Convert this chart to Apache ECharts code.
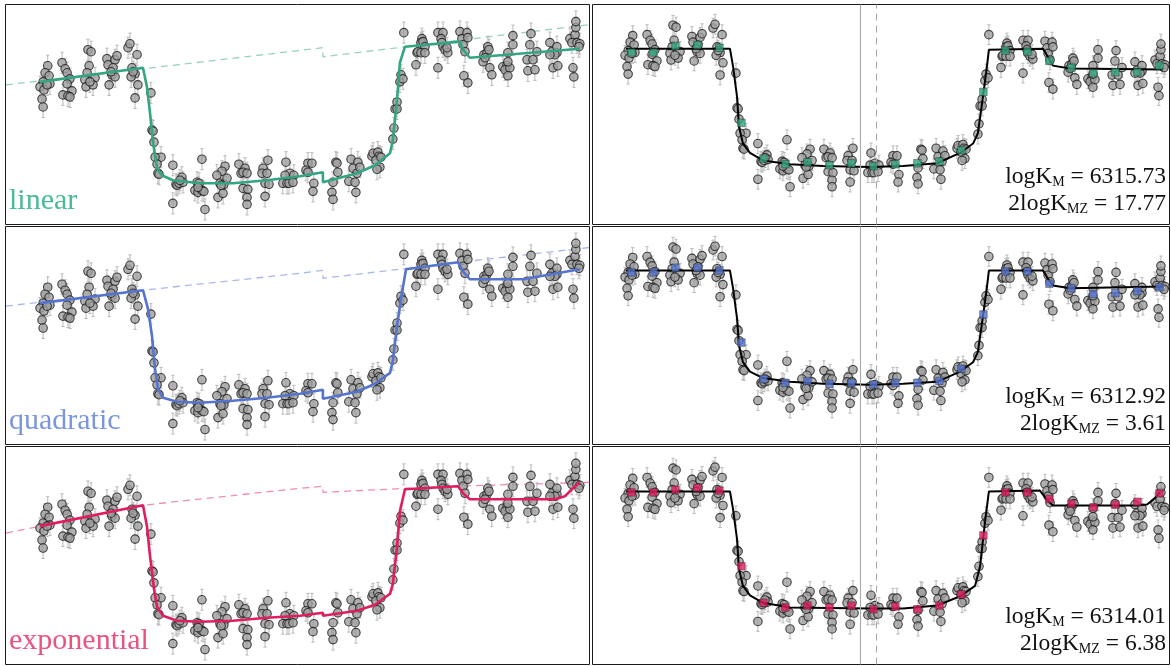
<!DOCTYPE html>
<html><head><meta charset="utf-8">
<script src="https://cdn.jsdelivr.net/npm/echarts@6/dist/echarts.min.js"></script>
<style>html,body{margin:0;padding:0;background:#fff}#c{width:1171px;height:666px}</style>
</head><body><div id="c"></div>
<script>
// ---------------- DATA ----------------
// observation times (arbitrary units, one per data point)
const times = [
 0.26,0.14,0.32,0.05,0.36,-0.09,0.09,0.00,0.05,0.23,
 0.91,1.05,1.14,1.27,1.14,0.95,1.36,1.18,1.27,
 2.09,2.23,2.14,2.05,1.95,2.41,2.00,2.32,2.18,
 2.95,3.00,3.32,3.41,3.23,3.18,3.32,3.05,3.14,
 3.91,4.00,4.32,4.09,4.23,4.05,4.36,4.23,4.14,
 4.95,5.00,5.05,5.09,5.41,5.14,5.23,5.27,5.32,
 5.95,6.09,6.14,6.23,6.36,6.41,5.95,6.27,
 7.27,7.05,7.14,6.95,7.09,7.27,7.36,7.41,7.09,
 8.32,8.18,7.95,8.09,8.27,8.41,8.00,8.23,8.14,
 8.95,9.23,9.05,9.14,9.32,9.14,9.36,9.32,9.32,
 10.27,10.05,10.00,10.23,10.14,10.32,10.14,
 11.09,11.27,11.05,10.95,11.14,11.23,11.45,11.41,
 12.09,12.27,12.00,12.09,12.36,12.32,
 13.36,13.41,13.45,13.23,13.18,13.23,
 14.05,14.36,14.14,14.32,13.95,14.23,14.27,14.45,
 15.00,15.05,15.27,15.32,15.18,15.36,15.23,15.41,
 16.00,15.95,16.05,16.14,16.14,16.27,16.32,16.41,16.45,
 17.00,17.05,17.09,17.27,17.23,17.32,17.41,17.23,17.41,
 18.00,18.23,18.14,18.18,18.23,18.32,18.45,18.00,18.41,
 19.00,19.09,19.32,19.14,19.23,19.36,19.18,19.36,
 20.05,20.09,20.23,20.27,20.32,20.36,20.45,20.14,
 20.95,21.14,21.05,21.27,21.18,21.18,21.41,21.41,21.18,
 22.05,22.09,22.18,22.23,22.32,22.41,22.50,
 23.09,23.18,23.23,23.41,23.45,23.41,23.32,23.09,
 24.00,24.09,24.23,24.27,24.27,24.32,24.45,24.14,24.18,24.41
];
// raw relative flux (1e-4 units)
const fluxRaw = [
 -17,-24,-27,-33,-35,-38,-41,-50,-58,-36,
 -14,-20,-24,-30,-35,-46,-42,-47,-48,
 -1,-3,-17,-24,-31,-29,-38,-36,-33,
 -10,-16,-11,-7,-19,-26,-28,-36,-23,
 1,5,-6,-19,-25,-28,-36,-49,-23,
 -44,-81,-82,-93,-108,-108,-115,-124,-125,
 -116,-135,-136,-134,-128,-133,-154,-131,
 -110,-133,-134,-141,-143,-141,-142,-160,-138,
 -117,-122,-126,-134,-135,-129,-148,-144,-136,
 -115,-119,-124,-123,-124,-139,-140,-148,-155,
 -111,-119,-124,-124,-134,-135,-147,
 -113,-124,-126,-134,-134,-134,-126,-133,
 -114,-114,-121,-123,-134,-142,
 -113,-114,-123,-133,-143,-150,
 -110,-113,-119,-124,-132,-133,-143,-118,
 -107,-104,-103,-107,-111,-118,-120,-108,
 -79,-90,-60,-53,-60,-33,-26,-30,16,
 -16,-4,-3,10,6,7,2,-4,-4,
 16,16,10,6,2,-1,-4,-19,1,
 17,10,16,4,-3,11,-27,-34,
 -13,-6,-4,2,-1,-19,-26,-9,
 -18,-17,-21,-19,-13,-27,4,13,-4,
 -11,-22,4,15,-11,-21,-3,
 6,-3,-19,-4,-17,2,-6,-6,
 10,6,14,21,27,6,5,-19,-28,2
];
// detrended relative flux (1e-4 units)
const fluxDetrended = [
 14,7,4,-2,-4,-7,-10,-19,-27,-5,
 15,9,5,-1,-6,-17,-13,-18,-19,
 25,23,9,2,-5,-3,-12,-10,-7,
 13,7,12,16,4,-3,-5,-13,0,
 22,26,15,2,-4,-7,-15,-28,-2,
 -26,-63,-64,-75,-90,-90,-97,-106,-107,
 -101,-120,-121,-119,-113,-118,-139,-116,
 -97,-120,-121,-128,-130,-128,-129,-147,-125,
 -107,-112,-116,-124,-125,-119,-138,-134,-126,
 -107,-111,-116,-115,-116,-131,-132,-140,-147,
 -106,-114,-119,-119,-129,-130,-142,
 -111,-122,-124,-132,-132,-132,-124,-131,
 -114,-114,-121,-123,-134,-142,
 -107,-108,-117,-127,-137,-144,
 -106,-109,-115,-120,-128,-129,-139,-114,
 -106,-103,-102,-106,-110,-117,-119,-107,
 -80,-91,-61,-54,-61,-34,-27,-31,15,
 -20,-8,-7,6,2,3,-2,-8,-8,
 9,9,3,-1,-5,-8,-11,-26,-6,
 8,1,7,-5,-12,2,-36,-43,
 -25,-18,-16,-10,-13,-31,-38,-21,
 -32,-31,-35,-33,-27,-41,-10,-1,-18,
 -28,-39,-13,-2,-28,-38,-20,
 -14,-23,-39,-24,-37,-18,-26,-26,
 -12,-16,-8,-1,5,-16,-17,-41,-50,-20
];
const fluxErr = 10.5;

// trends (dashed) on the raw data
const trendLinearT = [-1.64,12.77,12.77,24.91];
const trendLinearY = [-36,1,-8,24];
const trendQuadT = [-1.64,4.59,11.73,12.77,12.77,18.55,24.91];
const trendQuadY = [-36,-20,-3,0,-8,7,23];
const trendExpT = [-1.64,4.59,11.73,12.77,12.77,18.55,24.91];
const trendExpY = [-43,-15,2,4,-2,4,8];

// full models on the raw data
const modelLinearT = [-0.09,4.59,4.77,4.91,5.05,5.23,5.45,5.95,7.18,8.68,10.23,11.73,12.77,12.77,14.32,15.14,15.82,15.95,16.14,16.27,16.5,19.0,19.14,19.45,24.45];
const modelLinearY = [-33,-19,-38,-64,-94,-119,-126,-131,-134,-134,-131,-127,-123,-133,-124,-116,-104,-91,-51,-14,2,7,-1,-9,0];
const modelQuadT = [-0.09,4.59,4.82,5.0,5.14,5.27,5.5,6.14,7.18,8.68,10.23,11.73,12.77,12.77,14.32,15.14,15.82,15.95,16.14,16.36,16.55,18.91,19.14,19.45,21.86,24.45];
const modelQuadY = [-33,-20,-39,-66,-99,-119,-128,-132,-133,-131,-128,-124,-120,-129,-122,-114,-103,-91,-56,-23,1,8,-1,-9,-9,1];
const modelExpT = [-0.09,4.59,4.77,4.91,5.09,5.23,5.5,6.14,7.18,8.68,10.23,11.73,12.77,12.77,14.32,15.14,15.82,15.95,16.14,16.27,16.5,18.91,19.14,19.45,23.32,23.77,24.09,24.45];
const modelExpY = [-36,-15,-36,-66,-99,-117,-126,-131,-132,-131,-128,-126,-123,-126,-121,-115,-104,-94,-57,-21,1,4,-3,-9,-9,-6,1,8];

// transit models on the detrended data
const detModelLinearT = [-0.05,4.68,4.82,5.0,5.09,5.27,5.59,6.18,7.41,8.91,11.05,12.55,14.09,15.14,15.73,15.95,16.18,16.36,16.45,18.91,19.14,19.36,20.14,24.36];
const detModelLinearY = [0,0,-19,-51,-83,-101,-111,-119,-123,-125,-126,-125,-122,-111,-101,-90,-51,-19,-1,0,-9,-18,-21,-22];
const detModelQuadT = [-0.05,4.68,4.82,5.0,5.09,5.27,5.59,6.18,7.41,8.91,11.05,12.55,14.09,15.14,15.73,15.95,16.18,16.36,16.45,18.91,19.14,19.36,20.14,24.36];
const detModelQuadY = [0,0,-19,-51,-80,-98,-108,-115,-119,-121,-122,-121,-119,-108,-98,-87,-49,-18,0,0,-9,-16,-19,-17];
const detModelExpT = [-0.05,4.68,4.82,5.0,5.09,5.27,5.59,6.18,7.41,11.05,12.55,14.09,15.14,15.82,16.05,16.27,16.45,18.77,19.09,19.36,23.18,23.64,23.91,24.23];
const detModelExpY = [0,0,-19,-51,-83,-101,-111,-119,-124,-125,-125,-122,-112,-101,-80,-33,0,1,-9,-15,-15,-14,-9,-1];

// binned detrended data
const binTimes = [0.2,1.2,2.2,3.2,4.2,5.2,6.2,7.2,8.2,9.2,10.2,11.2,12.2,13.2,14.2,15.2,16.2,17.2,18.2,19.2,20.2,21.2,22.2,23.2,24.2];
const binLinear = [-4,-4,3,4,1,-79,-117,-123,-121,-124,-122,-125,-123,-122,-120,-108,-46,-2,-3,-13,-20,-26,-25,-25,-18];
const binQuad = [-2,-2,3,3,0,-77,-116,-120,-118,-121,-120,-122,-120,-120,-118,-105,-47,-1,-1,-14,-19,-25,-24,-22,-18];
const binExp = [-1,-1,2,4,1,-80,-119,-124,-122,-124,-122,-126,-123,-126,-122,-110,-47,-1,-1,-8,-13,-17,-14,-11,-2];

// reference epochs (vertical lines)
const refTimes = [10.59, 11.34];

// model names and evidence values
const modelNames = ['linear', 'quadratic', 'exponential'];
const logKM = ['6315.73', '6312.92', '6314.01'];
const logKMZ = ['17.77', '3.61', '6.38'];

// ---------------- STYLE / LAYOUT ----------------
const rows = [
  {color:'#33a582', label:'#4cba96', dash:'rgba(51,165,130,0.5)', top:4.5, h:220, rMin:-187.2, rMax:47.1,
   tT:trendLinearT, tY:trendLinearY, mT:modelLinearT, mY:modelLinearY, dT:detModelLinearT, dY:detModelLinearY, bins:binLinear},
  {color:'#5574d0', label:'#7b96df', dash:'rgba(85,116,208,0.5)', top:226.5, h:218, rMin:-186, rMax:47.1,
   tT:trendQuadT, tY:trendQuadY, mT:modelQuadT, mY:modelQuadY, dT:detModelQuadT, dY:detModelQuadY, bins:binQuad},
  {color:'#e01d5f', label:'#e9547f', dash:'rgba(224,29,95,0.5)', top:446.5, h:218, rMin:-185, rMax:48.1,
   tT:trendExpT, tY:trendExpY, mT:modelExpT, mY:modelExpY, dT:detModelExpT, dY:detModelExpY, bins:binExp}
];
const zip = (a,b) => a.map((v,i)=>[v,b[i]]);
const errData = (ys) => times.map((t,i)=>[t, ys[i], fluxErr]);

function errRender(params, api){
  const x = api.value(0), y = api.value(1), e = api.value(2);
  const hi = api.coord([x, y+e]), lo = api.coord([x, y-e]);
  const c = 1.6, st = {stroke:'#b8b8b8', lineWidth:1};
  return {type:'group', children:[
    {type:'line', shape:{x1:hi[0],y1:hi[1],x2:lo[0],y2:lo[1]}, style:st},
    {type:'line', shape:{x1:hi[0]-c,y1:hi[1],x2:hi[0]+c,y2:hi[1]}, style:st},
    {type:'line', shape:{x1:lo[0]-c,y1:lo[1],x2:lo[0]+c,y2:lo[1]}, style:st}
  ]};
}

const grid=[], xAxis=[], yAxis=[], series=[], graphic=[];
const hidden = {show:false};
const axisBase = {axisLine:hidden, axisTick:hidden, axisLabel:hidden, splitLine:hidden};
const pointStyle = {color:'#a0a0a0', borderColor:'#1a1a1a', borderWidth:1.1};
const serif = '"Liberation Serif", "DejaVu Serif", serif';

rows.forEach((r, k) => {
  const gl = 2*k, gr = 2*k+1;
  grid.push({left:5.5, top:r.top, width:584, height:r.h, show:true, borderColor:'#1a1a1a', borderWidth:1, containLabel:false});
  grid.push({left:592.5, top:r.top, width:577, height:r.h, show:true, borderColor:'#1a1a1a', borderWidth:1, containLabel:false});
  xAxis.push(Object.assign({type:'value', gridIndex:gl, min:-1.66, max:24.89}, axisBase));
  xAxis.push(Object.assign({type:'value', gridIndex:gr, min:-1.57, max:24.66}, axisBase));
  yAxis.push(Object.assign({type:'value', gridIndex:gl, min:-175, max:44}, axisBase));
  yAxis.push(Object.assign({type:'value', gridIndex:gr, min:r.rMin, max:r.rMax}, axisBase));

  // left panel
  series.push({type:'line', xAxisIndex:gl, yAxisIndex:gl, data:zip(r.tT, r.tY), symbol:'none', z:1,
    lineStyle:{color:r.dash, width:1.3, type:[7,5]}, silent:true});
  series.push({type:'custom', xAxisIndex:gl, yAxisIndex:gl, data:errData(fluxRaw), renderItem:errRender, z:2, silent:true});
  series.push({type:'scatter', xAxisIndex:gl, yAxisIndex:gl, data:zip(times, fluxRaw), symbolSize:8.5, itemStyle:pointStyle, z:3});
  series.push({type:'line', xAxisIndex:gl, yAxisIndex:gl, data:zip(r.mT, r.mY), symbol:'none', z:4,
    lineStyle:{color:r.color, width:2.6}});

  // right panel
  series.push({type:'line', xAxisIndex:gr, yAxisIndex:gr, data:[], symbol:'none', z:0, silent:true,
    markLine:{silent:true, symbol:'none', label:{show:false},
      data:[{xAxis:refTimes[0], lineStyle:{color:'#a9a9a9', width:1.1, type:'solid'}},
            {xAxis:refTimes[1], lineStyle:{color:'#a9a9a9', width:1.1, type:[7,5]}}]}});
  series.push({type:'custom', xAxisIndex:gr, yAxisIndex:gr, data:errData(fluxDetrended), renderItem:errRender, z:2, silent:true});
  series.push({type:'scatter', xAxisIndex:gr, yAxisIndex:gr, data:zip(times, fluxDetrended), symbolSize:8.5, itemStyle:pointStyle, z:3});
  series.push({type:'line', xAxisIndex:gr, yAxisIndex:gr, data:zip(r.dT, r.dY), symbol:'none', z:4,
    lineStyle:{color:'#000', width:2}});
  series.push({type:'scatter', xAxisIndex:gr, yAxisIndex:gr, data:zip(binTimes, r.bins), symbol:'rect', symbolSize:7.5,
    itemStyle:{color:r.color, borderColor:'#333', borderWidth:0.6}, z:5});

  // labels
  const bottom = r.top + r.h;
  graphic.push({type:'text', left:9, top:bottom-38, z:10,
    style:{text:modelNames[k], fill:r.label, font:'30px ' + serif}});
  const rich = {a:{fontFamily:'Liberation Serif', fontSize:23.5, lineHeight:26, fill:'#111'},
                s:{fontFamily:'Liberation Serif', fontSize:14, lineHeight:12, verticalAlign:'bottom', fill:'#111'}};
  graphic.push({type:'text', right:5, top:bottom-60, z:10,
    style:{text:'{a|logK}{s|M}{a| = ' + logKM[k] + '}', rich:rich}});
  graphic.push({type:'text', right:5, top:bottom-33, z:10,
    style:{text:'{a|2logK}{s|MZ}{a| = ' + logKMZ[k] + '}', rich:rich}});
});

const chart = echarts.init(document.getElementById('c'), null, {renderer:'canvas'});
chart.setOption({animation:false, backgroundColor:'#fff', grid, xAxis, yAxis, series, graphic});
</script></body></html>
